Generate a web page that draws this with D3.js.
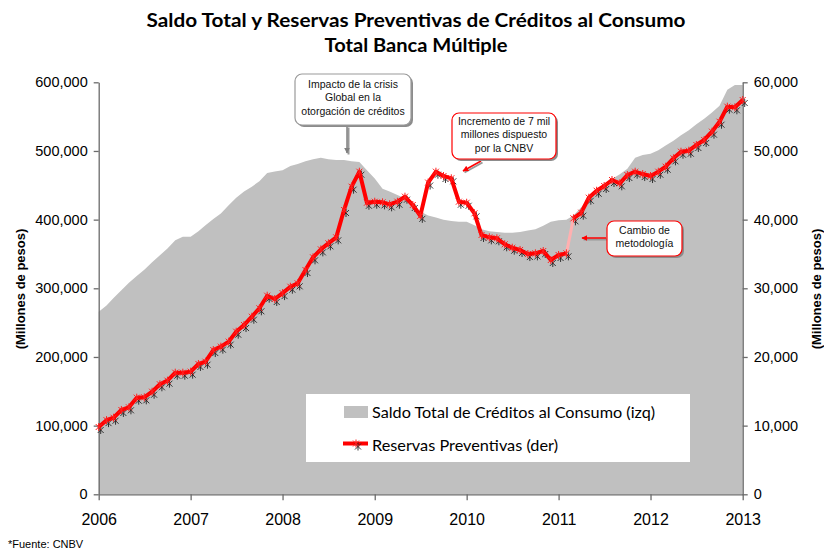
<!DOCTYPE html>
<html>
<head>
<meta charset="utf-8">
<script src="https://cdn.jsdelivr.net/npm/d3@7"></script>
<style>
  body { margin: 0; background: #fff; }
</style>
</head>
<body>
<svg id="chart" width="824" height="553"></svg>
<script>
// Fonts: Calibri-like for titles/legend, Arial-like for axes
const titleFont = "Lato, 'Open Sans', sans-serif";
const axisFont = "'Liberation Sans', Arial, sans-serif";

// Monthly data, Jan 2006 .. Jan 2013
const startMonth = new Date(2006, 0, 1);

// Saldo total de créditos al consumo (millones de pesos, eje izquierdo)
const saldo = [
  266000, 275000, 286000, 297000, 308000, 318000, 327000, 338000, 348000, 358000, 370000, 375000,
  375000, 383000, 392000, 401000, 409000, 421000, 432000, 441000, 448000, 456000, 468000, 470000,
  472000, 478000, 481000, 485000, 488000, 490000, 488000, 487000, 487000, 485000, 484000, 472000,
  460000, 445000, 441000, 436000, 431000, 424000, 412000, 406000, 403000, 400000, 398000, 397000,
  397000, 392000, 386000, 383000, 382000, 381000, 381000, 382000, 384000, 386000, 391000, 397000,
  399000, 400000, 406000, 418000, 431000, 442000, 451000, 459000, 466000, 474000, 490000, 494000,
  496000, 501000, 508000, 515000, 523000, 530000, 539000, 547000, 556000, 566000, 589000, 596000,
  596000
];

// Reservas preventivas (millones de pesos, eje derecho)
const reservas = [
  9800, 10800, 11150, 12280, 12670, 14070, 14120, 14940, 16020, 16550, 17710, 17710,
  17860, 18980, 19310, 21010, 21500, 22230, 23680, 24650, 25860, 27090, 28920, 28440,
  29300, 30230, 30720, 32660, 34510, 35670, 36550, 37420, 41400, 44800, 46980, 42460,
  42610, 42520, 42230, 42610, 43340, 42130, 40550, 45400, 46980, 46350, 46020, 42610,
  42460, 40920, 37760, 37420, 37280, 36410, 35910, 35580, 34990, 35090, 35430, 34120,
  34850, 35090, 40190, 41010, 43190, 44210, 44900, 45770, 45290, 46500, 46980, 46640,
  46350, 46980, 47710, 48930, 49890, 50040, 50870, 51600, 52810, 54260, 56450, 56360,
  57420
];

// Index after which the methodology change happens
const breakIndex = 61;

const leftTicks = [0, 100000, 200000, 300000, 400000, 500000, 600000];
const rightTicks = [0, 10000, 20000, 30000, 40000, 50000, 60000];
const yearTicks = [2006, 2007, 2008, 2009, 2010, 2011, 2012, 2013];

const titleLines = ["Saldo Total y Reservas Preventivas de Créditos al Consumo", "Total Banca Múltiple"];
const legendLabels = ["Saldo Total de Créditos al Consumo (izq)", "Reservas Preventivas (der)"];
const axisTitle = "(Millones de pesos)";
const source = "*Fuente: CNBV";

const callouts = [
  { lines: ["Impacto de la crisis", "Global en la", "otorgación de créditos"], border: "#9a9a9a", arrow: "#7f7f7f" },
  { lines: ["Incremento de 7 mil", "millones dispuesto", "por la CNBV"], border: "#ff0000", arrow: "#ff0000" },
  { lines: ["Cambio de", "metodología"], border: "#ff0000", arrow: "#ff0000" }
];

const data = saldo.map((v, i) => ({
  date: d3.timeMonth.offset(startMonth, i),
  saldo: v,
  reservas: reservas[i]
}));

const svg = d3.select("#chart");
const plot = { left: 98.7, right: 742.7, top: 82.3, bottom: 494.3 };

const x = d3.scaleTime()
  .domain([new Date(2006, 0, 1), new Date(2013, 0, 1)])
  .range([plot.left, plot.right]);
const yL = d3.scaleLinear().domain([0, 600000]).range([plot.bottom, plot.top]);
const yR = d3.scaleLinear().domain([0, 60000]).range([plot.bottom, plot.top]);

// Area
const area = d3.area()
  .x(d => x(d.date))
  .y0(plot.bottom)
  .y1(d => yL(d.saldo));

svg.append("path")
  .datum(data)
  .attr("d", area)
  .attr("fill", "#c0c0c0");

// Axes
const axisColor = "#6b6b6b";
function styleAxis(g, size) {
  g.select(".domain").attr("stroke", axisColor).attr("stroke-width", 1.3);
  g.selectAll(".tick line").attr("stroke", axisColor).attr("stroke-width", 1.3);
  g.selectAll(".tick text")
    .attr("font-family", axisFont)
    .attr("font-size", size)
    .attr("fill", "#000");
}

svg.append("g")
  .attr("transform", `translate(${plot.left},0)`)
  .call(d3.axisLeft(yL).tickValues(leftTicks).tickSize(5).tickSizeOuter(0).tickPadding(6).tickFormat(d3.format(",")))
  .call(g => styleAxis(g, "14.5px"));

svg.append("g")
  .attr("transform", `translate(${plot.right},0)`)
  .call(d3.axisRight(yR).tickValues(rightTicks).tickSize(5).tickSizeOuter(0).tickPadding(6).tickFormat(d3.format(",")))
  .call(g => styleAxis(g, "14.5px"));

svg.append("g")
  .attr("transform", `translate(0,${plot.bottom})`)
  .call(d3.axisBottom(x).tickValues(yearTicks.map(y => new Date(y, 0, 1))).tickSize(6).tickSizeOuter(0).tickPadding(13).tickFormat(d3.timeFormat("%Y")))
  .call(g => styleAxis(g, "16px"));

// Reservas line
const line = d3.line()
  .x(d => x(d.date))
  .y(d => yR(d.reservas));

// asterisk marker: x plus vertical stroke
function asterisk(s) {
  return `M${-s},${-s}L${s},${s}M${-s},${s}L${s},${-s}M0,${-s - 1}L0,${s + 1}`;
}

// black shadow markers under the line
svg.append("g")
  .selectAll("path")
  .data(data)
  .join("path")
  .attr("transform", d => `translate(${x(d.date) + 2},${yR(d.reservas) + 3})`)
  .attr("d", asterisk(3))
  .attr("stroke", "#222")
  .attr("stroke-width", 0.9)
  .attr("fill", "none");

// pink transition segment
svg.append("path")
  .datum(data.slice(breakIndex, breakIndex + 2))
  .attr("d", line)
  .attr("fill", "none")
  .attr("stroke", "#ffb0b0")
  .attr("stroke-width", 3);

[data.slice(0, breakIndex + 1), data.slice(breakIndex + 1)].forEach(seg => {
  svg.append("path")
    .datum(seg)
    .attr("d", line)
    .attr("fill", "none")
    .attr("stroke", "#ff0000")
    .attr("stroke-width", 4)
    .attr("stroke-linejoin", "round");
});

svg.append("g")
  .selectAll("path")
  .data(data)
  .join("path")
  .attr("transform", d => `translate(${x(d.date)},${yR(d.reservas)})`)
  .attr("d", asterisk(3))
  .attr("stroke", "#ff2020")
  .attr("stroke-width", 1)
  .attr("fill", "none");

// Title
function fitText(sel, width) {
  const w = sel.node().getComputedTextLength();
  if (w > 0) sel.attr("textLength", width).attr("lengthAdjust", "spacingAndGlyphs");
  return sel;
}

svg.append("text")
  .attr("x", 416).attr("y", 27)
  .attr("text-anchor", "middle")
  .attr("font-family", titleFont)
  .attr("font-size", "18px")
  .attr("font-weight", "700")
  .text(titleLines[0])
  .call(s => fitText(s, 539));

svg.append("text")
  .attr("x", 416).attr("y", 52)
  .attr("text-anchor", "middle")
  .attr("font-family", titleFont)
  .attr("font-size", "18px")
  .attr("font-weight", "700")
  .text(titleLines[1])
  .call(s => fitText(s, 183));

// Axis titles
svg.append("text")
  .attr("transform", "translate(25,289) rotate(-90)")
  .attr("text-anchor", "middle")
  .attr("font-family", axisFont)
  .attr("font-size", "13px")
  .attr("font-weight", "700")
  .text(axisTitle);

svg.append("text")
  .attr("transform", "translate(821,289) rotate(-90)")
  .attr("text-anchor", "middle")
  .attr("font-family", axisFont)
  .attr("font-size", "13px")
  .attr("font-weight", "700")
  .text(axisTitle);

// Source
svg.append("text")
  .attr("x", 8).attr("y", 548)
  .attr("font-family", axisFont)
  .attr("font-size", "11px")
  .text(source);

// Legend
const legend = svg.append("g");
legend.append("rect")
  .attr("x", 306).attr("y", 394).attr("width", 384).attr("height", 68)
  .attr("fill", "#fff");
legend.append("rect")
  .attr("x", 344).attr("y", 406).attr("width", 24).attr("height", 12)
  .attr("fill", "#c0c0c0");
legend.append("text")
  .attr("x", 372).attr("y", 418)
  .attr("font-family", titleFont)
  .attr("font-size", "15px")
  .text(legendLabels[0])
  .call(s => fitText(s, 283));
legend.append("line")
  .attr("x1", 343).attr("x2", 368).attr("y1", 443.5).attr("y2", 443.5)
  .attr("stroke", "#ff0000").attr("stroke-width", 4);
legend.append("path")
  .attr("transform", "translate(358,446.5)")
  .attr("d", asterisk(3))
  .attr("stroke", "#222").attr("stroke-width", 0.9).attr("fill", "none");
legend.append("path")
  .attr("transform", "translate(356,443.5)")
  .attr("d", asterisk(3))
  .attr("stroke", "#ff2020").attr("stroke-width", 1).attr("fill", "none");
legend.append("text")
  .attr("x", 372).attr("y", 451)
  .attr("font-family", titleFont)
  .attr("font-size", "15px")
  .text(legendLabels[1])
  .call(s => fitText(s, 186));

// Callouts
const boxes = [
  { x: 295, y: 74, w: 116, h: 51, cx: 353, base: 88, arrow: [[347, 126], [347, 153]] },
  { x: 452, y: 113, w: 104, h: 46, cx: 504, base: 125, arrow: [[481, 161], [463, 171]] },
  { x: 607, y: 221, w: 75, h: 35, cx: 644.5, base: 234, arrow: [[606, 238], [582, 238]] }
];

const defs = svg.append("defs");
["#7f7f7f", "#ff0000"].forEach((c, i) => {
  defs.append("marker")
    .attr("id", "ah" + i)
    .attr("viewBox", "0 0 10 10")
    .attr("refX", 9).attr("refY", 5)
    .attr("markerWidth", 4).attr("markerHeight", 4)
    .attr("orient", "auto")
    .append("path")
    .attr("d", "M0,0L10,5L0,10z")
    .attr("fill", c);
});

callouts.forEach((c, i) => {
  const b = boxes[i];
  const g = svg.append("g");
  // arrow shadow
  g.append("line")
    .attr("x1", b.arrow[0][0] + 1.5).attr("y1", b.arrow[0][1] + 1.5)
    .attr("x2", b.arrow[1][0] + 1.5).attr("y2", b.arrow[1][1] + 1.5)
    .attr("stroke", "#999").attr("stroke-width", 2);
  g.append("line")
    .attr("x1", b.arrow[0][0]).attr("y1", b.arrow[0][1])
    .attr("x2", b.arrow[1][0]).attr("y2", b.arrow[1][1])
    .attr("stroke", c.arrow).attr("stroke-width", 1.5)
    .attr("marker-end", `url(#ah${c.arrow === "#ff0000" ? 1 : 0})`);
  // box shadow
  g.append("rect")
    .attr("x", b.x + 2).attr("y", b.y + 2).attr("width", b.w).attr("height", b.h)
    .attr("rx", 7)
    .attr("fill", "#8c8c8c");
  g.append("rect")
    .attr("x", b.x).attr("y", b.y).attr("width", b.w).attr("height", b.h)
    .attr("rx", 7)
    .attr("fill", "#fff")
    .attr("stroke", c.border)
    .attr("stroke-width", 1.2);
  c.lines.forEach((t, j) => {
    g.append("text")
      .attr("x", b.cx).attr("y", b.base + j * 13.3)
      .attr("text-anchor", "middle")
      .attr("font-family", axisFont)
      .attr("font-size", "10.5px")
      .attr("fill", "#111")
      .text(t);
  });
});
</script>
</body>
</html>
